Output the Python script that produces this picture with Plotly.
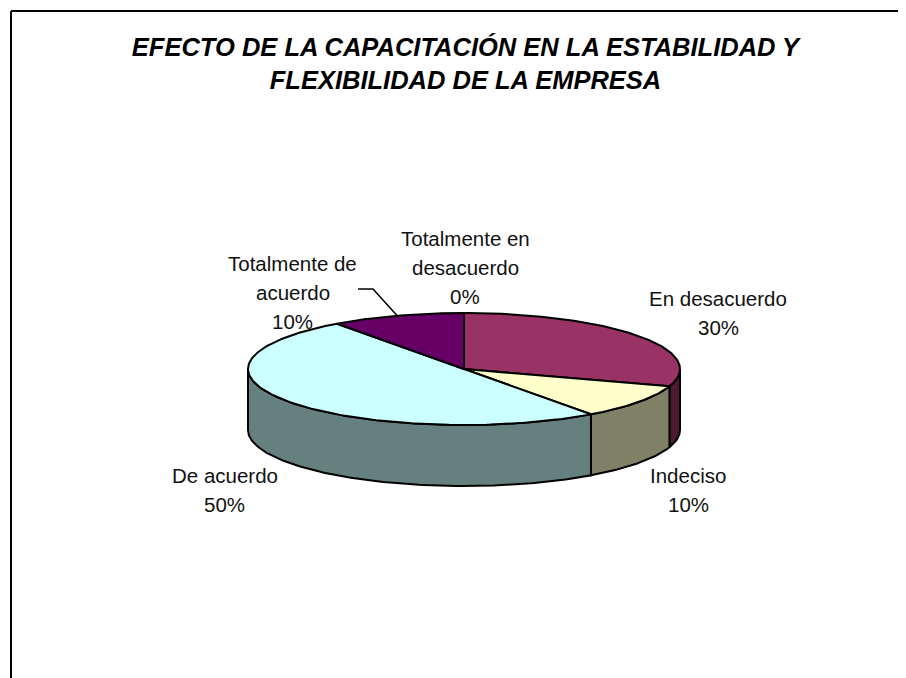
import math
import plotly.graph_objects as go

categories = ["En desacuerdo", "Indeciso", "De acuerdo", "Totalmente de acuerdo", "Totalmente en desacuerdo"]
values = [30, 10, 50, 10, 0]
top_colors = ["#993366", "#FFFFCC", "#CCFFFF", "#660066", "#FFFFFF"]
side_colors = ["#4D1A33", "#808066", "#668080", "#330033", "#808080"]
label_lines = [["En desacuerdo"], ["Indeciso"], ["De acuerdo"], ["Totalmente de", "acuerdo"], ["Totalmente en", "desacuerdo"]]
label_centers = [(718, 298), (688, 475), (224.5, 475), (292.5, 263), (465, 238)]
title_text = "EFECTO DE LA CAPACITACIÓN EN LA ESTABILIDAD Y<br>FLEXIBILIDAD DE LA EMPRESA"

# the page body has an 8 px margin, so the plot starts 8 px into the window
PAGE_MARGIN = 8
WIN_W, WIN_H = 906, 678
CX, CY, RX, RY, DEPTH = 464, 369, 216, 56, 61
LINE_GAP = 29
FONT = "Liberation Sans"


def arc(a0, a1, dy=0):
    n = max(2, int(abs(a1 - a0)) + 1)
    pts = [a0 + (a1 - a0) * i / (n - 1) for i in range(n)]
    return ([CX + RX * math.sin(math.radians(a)) for a in pts],
            [CY + dy - RY * math.cos(math.radians(a)) for a in pts])


total = sum(values)
fig = go.Figure()
spans = []
start = 0.0
for v in values:
    end = start + 360.0 * v / total
    spans.append((start, end))
    start = end


def poly(x, y, fill):
    fig.add_trace(go.Scatter(x=x, y=y, mode="lines", fill="toself", fillcolor=fill,
                             line=dict(color="black", width=2), hoverinfo="skip", showlegend=False))


# walls: only the part of each slice facing the viewer
for (a0, a1), col in zip(spans, side_colors):
    lo, hi = max(a0, 90), min(a1, 270)
    if hi > lo:
        tx, ty = arc(lo, hi)
        bx, by = arc(hi, lo, DEPTH)
        poly(tx + bx + tx[:1], ty + by + ty[:1], col)

# top faces
for (a0, a1), col in zip(spans, top_colors):
    if a1 > a0:
        ax, ay = arc(a0, a1)
        poly([CX] + ax + [CX], [CY] + ay + [CY], col)

# leader line for the "Totalmente de acuerdo" slice
i_lead = categories.index("Totalmente de acuerdo")
mid = sum(spans[i_lead]) / 2
mx, my = arc(mid, mid)[0][0], arc(mid, mid)[1][0]
fig.add_trace(go.Scatter(x=[358, 373, mx], y=[289, 289, my], mode="lines",
                         line=dict(color="black", width=1.5), hoverinfo="skip", showlegend=False))

annotations = []
for lines, (lx, ly), v in zip(label_lines, label_centers, values):
    for j, t in enumerate(lines + [f"{v}%"]):
        annotations.append(dict(x=lx, y=ly + j * LINE_GAP, text=t, showarrow=False, xref="x", yref="y",
                                xanchor="center", yanchor="middle",
                                font=dict(family=FONT, size=20.5, color="#111111")))

plot_w, plot_h = WIN_W, WIN_H
x_end, y_end = PAGE_MARGIN + plot_w, PAGE_MARGIN + plot_h
fig.update_layout(
    width=plot_w, height=plot_h, margin=dict(l=0, r=0, t=0, b=0),
    paper_bgcolor="white", plot_bgcolor="white", showlegend=False,
    title=dict(text=f"<b><i>{title_text}</i></b>", x=(465.5 - PAGE_MARGIN) / plot_w, xanchor="center", xref="paper",
               y=1 - (56 - PAGE_MARGIN) / plot_h, yanchor="top", yref="container",
               font=dict(family=FONT, size=25.5, color="black")),
    xaxis=dict(range=[PAGE_MARGIN, x_end], visible=False, fixedrange=True),
    yaxis=dict(range=[y_end, PAGE_MARGIN], visible=False, fixedrange=True),
    annotations=annotations,
    shapes=[dict(type="line", xref="x", yref="y", x0=11, x1=11, y0=11, y1=y_end, line=dict(color="black", width=2)),
            dict(type="line", xref="x", yref="y", x0=11, x1=x_end, y0=11, y1=11, line=dict(color="black", width=2))],
)
fig.write_html("out.html")
